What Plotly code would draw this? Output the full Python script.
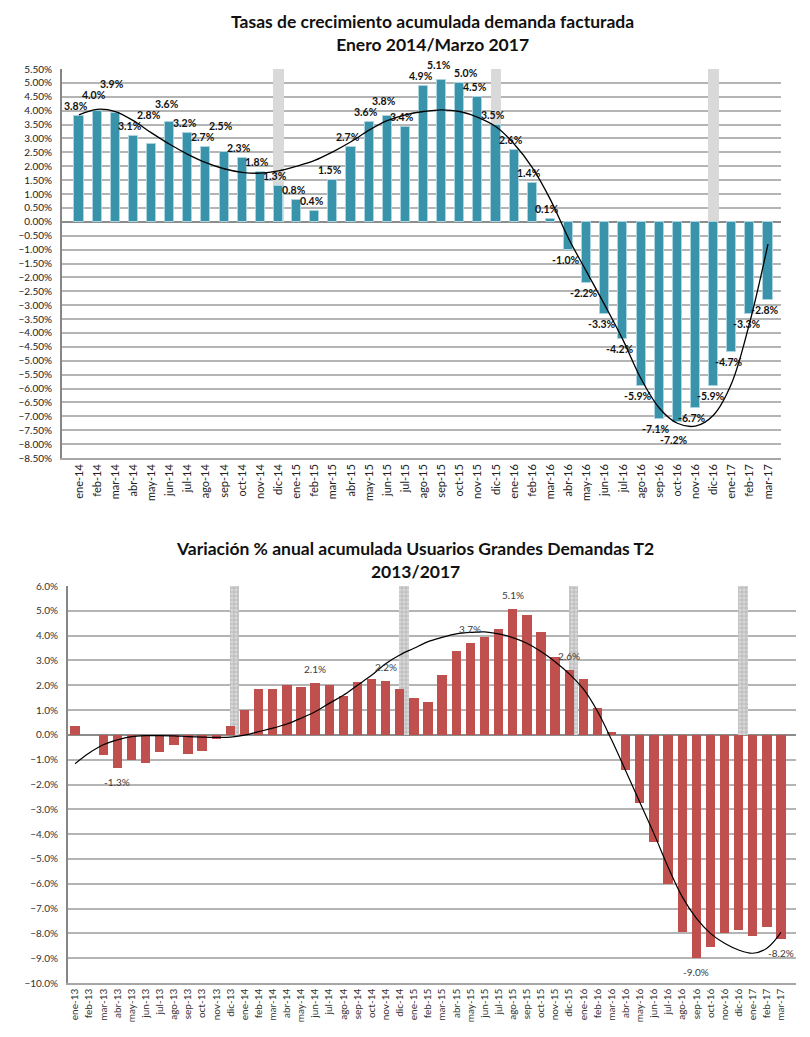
import plotly.graph_objects as go

# ---- data: chart 1 (ene-14 .. mar-17) ----
meses_1 = ["ene-14", "feb-14", "mar-14", "abr-14", "may-14", "jun-14", "jul-14", "ago-14",
           "sep-14", "oct-14", "nov-14", "dic-14", "ene-15", "feb-15", "mar-15", "abr-15",
           "may-15", "jun-15", "jul-15", "ago-15", "sep-15", "oct-15", "nov-15", "dic-15",
           "ene-16", "feb-16", "mar-16", "abr-16", "may-16", "jun-16", "jul-16", "ago-16",
           "sep-16", "oct-16", "nov-16", "dic-16", "ene-17", "feb-17", "mar-17"]
demanda = [3.8, 4.0, 3.9, 3.1, 2.8, 3.6, 3.2, 2.7, 2.5, 2.3, 1.8, 1.3, 0.8, 0.4, 1.5, 2.7,
           3.6, 3.8, 3.4, 4.9, 5.1, 5.0, 4.5, 3.5, 2.6, 1.4, 0.1, -1.0, -2.2, -3.3, -4.2, -5.9,
           -7.1, -7.2, -6.7, -5.9, -4.7, -3.3, -2.8]
tendencia_1 = [3.85, 4.05, 3.97, 3.64, 3.2, 2.79, 2.43, 2.13, 1.91, 1.78, 1.75, 1.83, 2.0,
               2.21, 2.52, 2.88, 3.3, 3.64, 3.85, 3.97, 4.03, 3.97, 3.76, 3.42, 2.8, 1.95,
               0.8, -0.6, -1.8, -3.0, -4.25, -5.65, -6.7, -7.25, -7.35, -6.95, -5.8, -3.6, -0.8]
cierres_1 = ["dic-14", "dic-15", "dic-16"]

# ---- data: chart 2 (ene-13 .. mar-17) ----
meses_2 = ["ene-13", "feb-13", "mar-13", "abr-13", "may-13", "jun-13", "jul-13", "ago-13",
           "sep-13", "oct-13", "nov-13", "dic-13"] + meses_1
usuarios_t2 = [0.35, 0.0, -0.8, -1.33, -1.0, -1.15, -0.7, -0.42, -0.78, -0.65, -0.15, 0.35,
               1.0, 1.83, 1.83, 2.0, 1.91, 2.08, 2.0, 1.56, 2.13, 2.26, 2.18, 1.83,
               1.47, 1.33, 2.43, 3.37, 3.72, 3.96, 4.25, 5.08, 4.84, 4.15, 3.13, 2.6,
               2.24, 1.08, 0.13, -1.42, -2.75, -4.32, -5.99, -7.93, -9.0, -8.53, -8.0, -7.86,
               -8.09, -7.74, -8.22]
tendencia_2 = [-1.16, -0.73, -0.4, -0.2, -0.07, -0.03, -0.03, -0.04, -0.07, -0.09, -0.1, -0.09,
               -0.01, 0.13, 0.27, 0.44, 0.67, 0.93, 1.27, 1.6, 2.0, 2.4, 2.87, 3.22,
               3.49, 3.76, 3.93, 4.07, 4.13, 4.15, 4.07, 3.92, 3.69, 3.36, 2.95, 2.46,
               1.85, 0.95, -0.2, -1.45, -2.72, -3.98, -5.32, -6.52, -7.39, -8.0, -8.4, -8.67,
               -8.8, -8.6, -7.96]
cierres_2 = ["dic-13", "dic-14", "dic-15", "dic-16"]
etiquetas_2 = ["abr-13", "jun-14", "nov-14", "may-15", "ago-15", "dic-15", "sep-16", "mar-17"]

# page body margin of the html page shifts the figure by 8px
OFF = 8
W, H = 810 - OFF, 1037 - OFF
FONT = "Lato"
y1_rng = [-8.5, 5.5]
y2_rng = [-10, 6]
TOP1, BOT1 = 69, 458
TOP2, BOT2 = 586, 983


def px_x(a, b):
    return [(a - OFF) / W, (b - OFF) / W]


def px_y(top, bottom):
    return [1 - (bottom - OFF) / H, 1 - (top - OFF) / H]


fig = go.Figure()

# chart 1 -------------------------------------------------------------
fig.add_trace(go.Bar(x=cierres_1, y=[y1_rng[1]] * len(cierres_1), width=0.58,
                     marker=dict(color="#d9d9d9", line_width=0),
                     xaxis="x", yaxis="y", showlegend=False, hoverinfo="skip"))
fig.add_trace(go.Bar(x=meses_1, y=demanda, width=0.5,
                     marker=dict(color="#3893ab", line=dict(color="#a9d4e0", width=1)),
                     xaxis="x", yaxis="y", showlegend=False))
fig.add_trace(go.Scatter(x=meses_1, y=tendencia_1, mode="lines", line_shape="spline",
                         line=dict(color="black", width=1.3),
                         xaxis="x", yaxis="y", showlegend=False, hoverinfo="skip"))

annots = []
# value labels chart 1: outward from the bar end, pushed further out when
# they would collide with the previous label (or sideways near the top)
ppu = (BOT1 - TOP1) / (y1_rng[1] - y1_rng[0])
top_lim = y1_rng[1] * ppu + 4
prev = None
for m, v in zip(meses_1, demanda):
    sign = 1 if v >= 0 else -1
    natural = abs(v) * ppu + 2
    pos, dx = natural, -3
    if prev is not None and prev[0] == sign and abs(natural - prev[1]) < 11:
        pos = prev[1] + 11
        if sign > 0 and pos > top_lim:
            pos, dx = natural, 6
    prev = (sign, pos)
    annots.append(dict(x=m, y=v, xref="x", yref="y", text=f"<b>{v:.1f}%</b>", showarrow=False,
                       yanchor="bottom" if v >= 0 else "top", xshift=dx,
                       yshift=sign * (pos - abs(v) * ppu),
                       font=dict(family=FONT, size=10.5, color="#111111")))

# chart 2 -------------------------------------------------------------
fig.add_trace(go.Bar(x=cierres_2, y=[y2_rng[1]] * len(cierres_2), width=0.68, offset=-0.04,
                     marker=dict(color="#d2d2d2", line_width=0,
                                 pattern=dict(shape="+", fgcolor="#8a8a8a", bgcolor="#d8d8d8",
                                              size=4, solidity=0.35)),
                     xaxis="x2", yaxis="y2", showlegend=False, hoverinfo="skip"))
fig.add_trace(go.Bar(x=meses_2, y=usuarios_t2, width=0.66,
                     marker=dict(color="#c0504d", line_width=0),
                     xaxis="x2", yaxis="y2", showlegend=False))
fig.add_trace(go.Scatter(x=meses_2, y=tendencia_2, mode="lines", line_shape="spline",
                         line=dict(color="black", width=1.2),
                         xaxis="x2", yaxis="y2", showlegend=False, hoverinfo="skip"))
for m in etiquetas_2:
    v = usuarios_t2[meses_2.index(m)]
    annots.append(dict(x=m, y=v, xref="x2", yref="y2", text=f"{v:.1f}%", showarrow=False,
                       yanchor="bottom" if v >= 0 else "top",
                       yshift=6 if v >= 0 else -6,
                       font=dict(family=FONT, size=10, color="#3a3a3a")))

annots += [
    dict(text="<b>Tasas de crecimiento acumulada demanda facturada<br>Enero 2014/Marzo 2017</b>",
         x=(432 - OFF) / W, y=1 - (9 - OFF) / H, xref="paper", yref="paper",
         xanchor="center", yanchor="top",
         showarrow=False, font=dict(family=FONT, size=17.5, color="#111111")),
    dict(text="<b>Variación % anual acumulada Usuarios Grandes Demandas T2<br>2013/2017</b>",
         x=(415 - OFF) / W, y=1 - (536 - OFF) / H, xref="paper", yref="paper",
         xanchor="center", yanchor="top",
         showarrow=False, font=dict(family=FONT, size=17.5, color="#111111")),
]

fig.update_layout(
    width=W, height=H,
    margin=dict(l=0, r=0, t=0, b=0),
    paper_bgcolor="white", plot_bgcolor="white",
    barmode="overlay", bargap=0,
    font=dict(family=FONT),
    xaxis=dict(domain=px_x(62, 781), type="category", categoryorder="array",
               categoryarray=meses_1, tickangle=-90,
               tickfont=dict(family=FONT, size=11, color="#222222"),
               showgrid=False, showline=True, linecolor="#a6a6a6", linewidth=1.5,
               ticks="", automargin=False, anchor="y"),
    yaxis=dict(domain=px_y(TOP1, BOT1), range=y1_rng, dtick=0.5, tickformat=".2f",
               ticksuffix="%", tickfont=dict(family=FONT, size=10, color="#222222"),
               ticklabelstandoff=6, gridcolor="#b4b4b4", gridwidth=1.5,
               zeroline=True, zerolinecolor="#8c8c8c", zerolinewidth=1.5,
               showline=True, linecolor="#868686", linewidth=2, automargin=False, anchor="x"),
    xaxis2=dict(domain=px_x(68, 796), type="category", categoryorder="array",
                categoryarray=meses_2, tickangle=-90,
                tickfont=dict(family=FONT, size=10, color="#333333"),
                showgrid=False, showline=True, linecolor="#a6a6a6", linewidth=1.5,
                ticks="", automargin=False, anchor="y2"),
    yaxis2=dict(domain=px_y(TOP2, BOT2), range=y2_rng, dtick=1, tickformat=".1f",
                ticksuffix="%", tickfont=dict(family=FONT, size=10, color="#333333"),
                ticklabelstandoff=6, gridcolor="#b4b4b4", gridwidth=1.5,
                zeroline=True, zerolinecolor="#8c8c8c", zerolinewidth=1.5,
                showline=True, linecolor="#868686", linewidth=2, automargin=False, anchor="x2"),
    annotations=annots,
)

fig.write_html("out.html")
